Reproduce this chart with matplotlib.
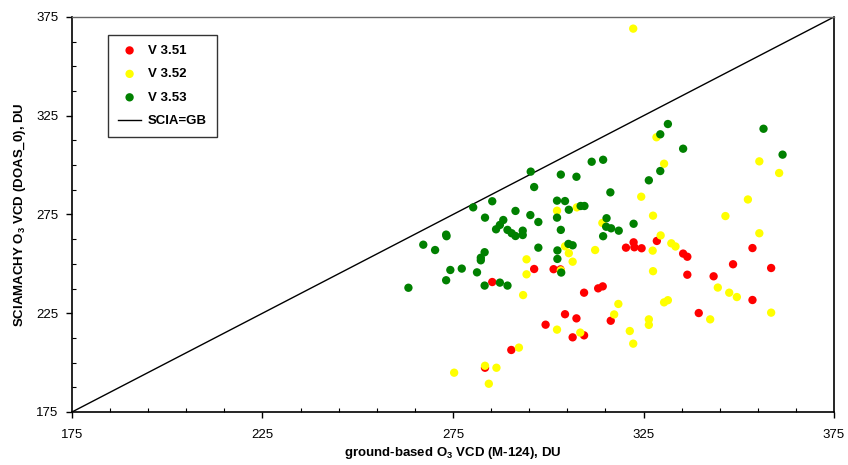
import matplotlib
matplotlib.use('Agg')
import matplotlib.pyplot as plt
import numpy as np

plt.rcParams['font.family'] = ['Liberation Sans', 'DejaVu Sans']
plt.rcParams['mathtext.fontset'] = 'custom'
plt.rcParams['mathtext.rm'] = 'Liberation Sans:bold'
plt.rcParams['mathtext.default'] = 'rm'

# ground-based (x) vs SCIAMACHY (y) ozone columns, DU
v351_gb = [285.3, 296.3, 301.4, 303.2, 309.4, 313.1, 314.3, 320.4, 322.4, 322.6,
           324.5, 328.5, 335.4, 336.5, 353.6, 348.5, 358.5, 336.5, 343.4, 353.6,
           339.5, 316.4, 304.4, 307.4, 299.3, 309.4, 306.4, 290.3, 283.4]
v351_scia = [240.8, 247.4, 247.3, 247.2, 235.4, 237.6, 238.6, 258.2, 260.9, 258.4,
             257.9, 261.6, 255.2, 253.6, 258.0, 249.8, 247.9, 244.5, 243.7, 231.7,
             225.1, 221.2, 224.5, 222.4, 219.2, 213.8, 212.8, 206.4, 197.4]

v352_gb = [322.3, 328.4, 330.4, 355.4, 360.6, 324.4, 352.4, 302.3, 307.5, 327.5,
           346.5, 314.2, 329.5, 355.4, 332.3, 333.4, 327.4, 312.3, 304.4, 305.4,
           306.4, 294.3, 294.3, 303.3, 327.5, 293.4, 331.4, 330.4, 344.5, 347.5,
           349.5, 358.5, 342.5, 318.4, 317.3, 326.4, 326.4, 321.4, 322.3, 302.3,
           308.4, 292.3, 283.4, 286.4, 275.3, 284.4]
v352_scia = [369.1, 314.1, 300.7, 301.9, 296.0, 284.0, 282.6, 276.9, 278.6, 274.4,
             274.2, 270.7, 264.4, 265.5, 260.4, 258.8, 256.7, 257.0, 258.9, 255.4,
             251.1, 252.3, 244.7, 246.7, 246.3, 234.2, 231.6, 230.5, 238.0, 235.4,
             233.2, 225.3, 221.9, 229.7, 224.4, 221.9, 219.1, 216.0, 209.6, 216.7,
             215.2, 207.6, 198.4, 197.4, 194.9, 189.3]

v353_gb = [331.4, 329.4, 335.4, 356.5, 361.5, 311.4, 314.4, 329.4, 303.3, 307.4,
           326.4, 316.3, 302.3, 304.4, 305.4, 308.5, 309.5, 302.3, 315.3, 315.2,
           316.5, 318.5, 322.4, 314.4, 303.3, 305.3, 306.4, 302.4, 302.4, 303.4,
           295.4, 296.3, 285.3, 280.3, 283.4, 291.4, 288.2, 287.3, 286.3, 289.3,
           290.4, 291.4, 293.3, 293.3, 295.3, 297.4, 273.2, 273.3, 267.2, 270.3,
           297.4, 283.3, 282.3, 282.3, 274.3, 277.3, 281.3, 273.2, 283.3, 287.3,
           289.3, 263.3]
v353_scia = [320.8, 315.6, 308.3, 318.4, 305.3, 301.7, 302.7, 297.0, 295.2, 294.1,
             292.3, 286.2, 282.0, 281.8, 277.4, 279.3, 279.3, 273.4, 273.1, 268.8,
             268.0, 266.8, 270.3, 264.0, 267.2, 260.1, 259.4, 256.8, 252.5, 245.6,
             296.7, 288.9, 281.7, 278.6, 273.4, 276.8, 272.2, 269.7, 267.5, 267.2,
             265.5, 264.1, 266.8, 264.6, 274.7, 271.2, 264.8, 264.0, 259.7, 257.0,
             258.2, 255.9, 253.1, 251.8, 246.9, 247.6, 245.7, 241.7, 239.0, 240.5,
             239.0, 237.9]

lo, hi = 175, 375

fig = plt.figure(figsize=(8.48, 4.65), dpi=100)
ax = fig.add_axes([0.0849, 0.114, 0.8986, 0.8495])

ms = 36
ax.scatter(v351_gb, v351_scia, s=ms, c='#FF0000', edgecolors='none', label='V 3.51', zorder=3)
ax.scatter(v352_gb, v352_scia, s=ms, c='#FFFF00', edgecolors='none', label='V 3.52', zorder=3)
ax.scatter(v353_gb, v353_scia, s=ms, c='#008000', edgecolors='none', label='V 3.53', zorder=3)
ax.plot([lo, hi], [lo, hi], color='black', lw=1, label='SCIA=GB', zorder=2)

ax.set_xlim(lo, hi)
ax.set_ylim(lo, hi)
ax.set_xticks(np.arange(lo, hi + 1, 50))
ax.set_xticks(np.arange(lo, hi + 1, 10), minor=True)
ax.set_yticks(np.arange(lo, hi + 1, 50))
ax.set_yticks(np.arange(lo, hi + 1, 12.5), minor=True)
ax.tick_params(which='major', direction='out', length=4, width=1, labelsize=9.5)
ax.tick_params(which='minor', direction='in', length=3, width=0.8)
ax.tick_params(axis='x', pad=8)
ax.tick_params(axis='y', pad=6)

for side in ['left', 'bottom', 'right']:
    ax.spines[side].set_linewidth(1.2)
    ax.spines[side].set_color('black')
ax.spines['top'].set_color('#666666')
ax.spines['top'].set_linewidth(1)

ax.set_xlabel(r'ground-based O$_3$ VCD (M-124), DU', fontsize=9.5, fontweight='bold', labelpad=3)
ax.set_ylabel(r'SCIAMACHY O$_3$ VCD (DOAS_0), DU', fontsize=9.5, fontweight='bold', labelpad=6)

leg = ax.legend(loc='upper left', bbox_to_anchor=(0.047, 0.955), frameon=True, fancybox=False,
                edgecolor='black', prop={'weight': 'bold', 'size': 9.5}, handlelength=1.8,
                handletextpad=0.5, labelspacing=0.85, borderpad=0.75, borderaxespad=0,
                scatterpoints=1)
leg.get_frame().set_linewidth(1)

fig.savefig('out.png', dpi=100)
